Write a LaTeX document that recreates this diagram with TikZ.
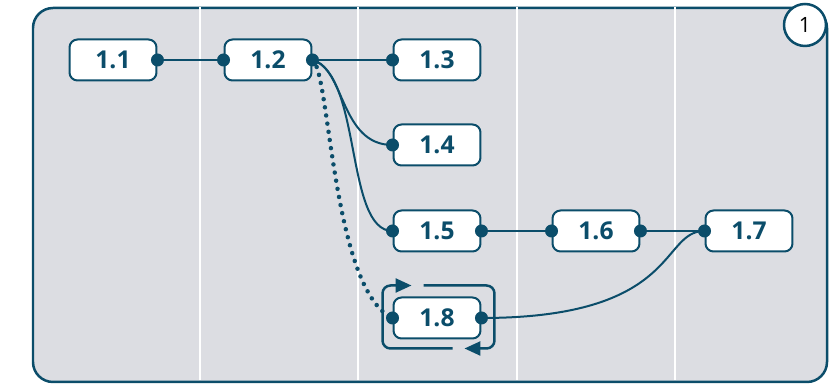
\documentclass[tikz,border=0pt]{standalone}
\usepackage{fontspec}
\setmainfont{Open Sans}
\usetikzlibrary{arrows.meta}
\definecolor{deep}{HTML}{0B4D6A}
\definecolor{lane}{HTML}{DCDDE2}
\tikzstyle{frame} = [draw=deep, fill=lane, line width=0.05cm, rounded corners=0.4cm]
\tikzstyle{divider} = [white, line width=0.05cm]
\tikzstyle{task} = [rectangle, rounded corners=0.16cm, minimum width=1.74cm, minimum height=0.82cm, text centered, draw=deep, line width=0.04cm, fill=white, text=deep, font=\fontsize{14}{16}\selectfont\bfseries]
\tikzstyle{badge} = [circle, draw=deep, fill=white, line width=0.05cm, minimum size=0.84cm, inner sep=0pt, font=\fontsize{12}{14}\selectfont]
\tikzstyle{link} = [deep, line width=0.04cm]
\tikzstyle{maybe} = [deep, line width=0.09cm, line cap=round, dash pattern=on 0pt off 0.165cm]
\tikzstyle{cycle} = [deep, line width=0.05cm, rounded corners=0.16cm, -{Triangle[length=0.32cm,width=0.28cm]}]

\begin{document}
\begin{tikzpicture}[x=0.02cm, y=-0.02cm]
\useasboundingbox (0,0) rectangle (840,384);
\draw [frame] (33,8) rectangle (827,382);
\foreach \x in {200,358,517,675}
  \draw [divider] (\x,7) -- (\x,380);
\node (step1) [badge] at (805,25) {1};

\node (n11) [task] at (113,60) {1.1};
\node (n12) [task] at (268,60) {1.2};
\node (n13) [task] at (437,60) {1.3};
\node (n14) [task] at (437,145) {1.4};
\node (n15) [task] at (437,231) {1.5};
\node (n16) [task] at (596,231) {1.6};
\node (n17) [task] at (749,231) {1.7};
\node (n18) [task] at (437,318) {1.8};

\draw [link] (n11.east) -- (n12.west);
\draw [link] (n12.east) -- (n13.west);
\draw [link] (n12.east) .. controls (345,68) and (340,145) .. (n14.west);
\draw [link] (n12.east) .. controls (362,75) and (345,231) .. (n15.west);
\draw [maybe] (n12.east) .. controls (330,70) and (332,290) .. (n18.west);
\draw [link] (n15.east) -- (n16.west);
\draw [link] (n16.east) -- (n17.west);
\draw [link] (n18.east) .. controls (680,318) and (660,231) .. (n17.west);

% loop round 1.8
\draw [cycle] ([shift={(60,9)}]n18.south west) -| ([shift={(-10,-11)}]n18.north west) -- ([shift={(19,-11)}]n18.north west);
\draw [cycle] ([shift={(31,-11)}]n18.north west) -| ([shift={(13,9)}]n18.south east) -- ([shift={(-17,9)}]n18.south east);

% ports
\foreach \p in {n11.east, n12.west, n12.east, n13.west, n14.west, n15.west, n15.east, n16.west, n16.east, n17.west, n18.west, n18.east}
  \fill [deep] (\p) circle [radius=0.13cm];
\end{tikzpicture}
\end{document}
